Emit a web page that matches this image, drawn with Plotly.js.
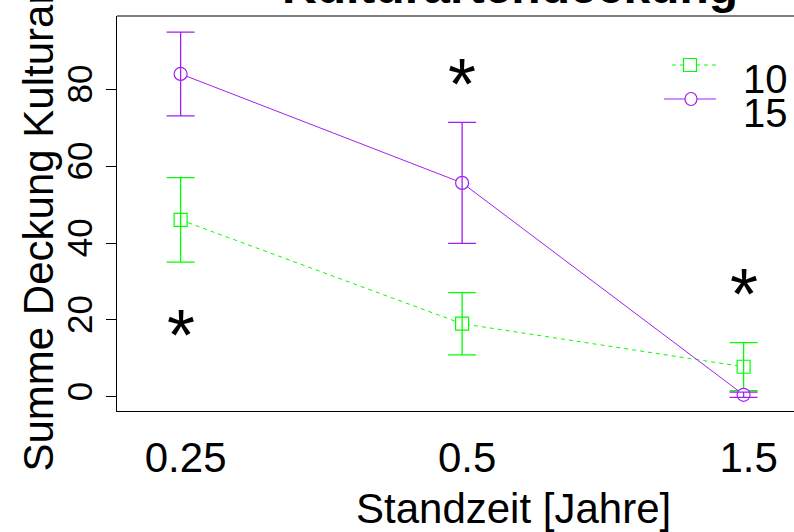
<!DOCTYPE html>
<html>
<head>
<meta charset="utf-8">
<script src="https://cdn.plot.ly/plotly-3.0.1.min.js"></script>
<style>html,body{margin:0;padding:0;background:#fff;}#chart{width:794px;height:532px;}</style>
</head>
<body>
<div id="chart"></div>
<script>
// ---- data ----
const categories = ['0.25', '0.5', '1.5'];      // Standzeit [Jahre]
const groupLabels = ['10', '15'];
const mean10 = [46.0, 19.0, 7.8];
const err10  = [11.0, 8.1, 6.25];
const mean15 = [84.0, 55.65, 0.5];
const err15  = [10.9, 15.75, 0.7];
const starY  = [18.6, 83.85, 29.2];              // significance asterisks
const yTicks = [0, 20, 40, 60, 80];

// ---- style ----
const FONT = 'Liberation Sans, Arial, Helvetica, sans-serif';
const GREEN = '#00FF00';
const PURPLE = '#A020F0';
const W = 794, H = 532;
const M = {l: 117, r: 0, t: 16, b: 121};
const PW = W - M.l - M.r, PH = H - M.t - M.b;
const px2x = p => (p - M.l) / PW;
const py2y = p => (H - M.b - p) / PH;

const xPos = categories.map((c, i) => i + 1);

function group(mean, err, color, dash, symbol) {
  return [
    {x: xPos, y: mean, mode: 'lines', line: {color: color, width: 1, dash: dash}, hoverinfo: 'skip'},
    {x: xPos, y: mean, mode: 'markers',
     marker: {symbol: symbol, size: 13, color: 'white', line: {color: color, width: 1.2}}},
    {x: xPos, y: mean, mode: 'markers', marker: {size: 1, color: 'rgba(0,0,0,0)'},
     error_y: {type: 'data', array: err, visible: true, color: color, thickness: 1.3, width: 14}}
  ];
}

const traces = [].concat(
  group(mean10, err10, GREEN, '4px,4px', 'square'),
  group(mean15, err15, PURPLE, 'solid', 'circle')
);

const STAR = 72;
const annotations = [];
categories.forEach((c, i) => {
  annotations.push({x: xPos[i], y: starY[i], xref: 'x', yref: 'y', text: '*', showarrow: false,
    xanchor: 'center', yanchor: 'middle', yshift: -0.26 * STAR + 9,
    font: {family: FONT, size: STAR, color: 'black'}});
});
// title (cut off at the top in the reference)
annotations.push({x: px2x(510), y: py2y(15), xref: 'paper', yref: 'paper', text: '<b>Kulturartendeckung</b>',
  showarrow: false, xanchor: 'center', yanchor: 'bottom', font: {family: FONT, size: 48, color: 'black'}});
// x axis title
annotations.push({x: px2x(513.5), y: py2y(508), xref: 'paper', yref: 'paper', text: 'Standzeit [Jahre]',
  showarrow: false, xanchor: 'center', yanchor: 'middle', font: {family: FONT, size: 42, color: 'black'}});
// y axis title
annotations.push({x: px2x(38), y: py2y(474), xref: 'paper', yref: 'paper', text: 'Summe Deckung Kulturarten',
  showarrow: false, textangle: -90, xanchor: 'center', yanchor: 'bottom', font: {family: FONT, size: 42, color: 'black'}});
// legend texts
annotations.push({x: px2x(741), y: py2y(79), xref: 'paper', yref: 'paper', text: groupLabels[0],
  showarrow: false, xanchor: 'left', yanchor: 'middle', font: {family: FONT, size: 40, color: 'black'}});
annotations.push({x: px2x(741), y: py2y(113), xref: 'paper', yref: 'paper', text: groupLabels[1],
  showarrow: false, xanchor: 'left', yanchor: 'middle', font: {family: FONT, size: 40, color: 'black'}});

const shapes = [
  // top frame line
  {type: 'line', xref: 'paper', yref: 'paper', x0: 0, x1: 1, y0: 1, y1: 1, line: {color: 'black', width: 1}},
  // legend samples
  {type: 'line', xref: 'paper', yref: 'paper', x0: px2x(672), x1: px2x(716), y0: py2y(65), y1: py2y(65),
   line: {color: GREEN, width: 1, dash: '4px,4px'}},
  {type: 'rect', xref: 'paper', yref: 'paper', x0: px2x(683.5), x1: px2x(696.5), y0: py2y(58.5), y1: py2y(71.5),
   line: {color: GREEN, width: 1.2}, fillcolor: 'white'},
  {type: 'line', xref: 'paper', yref: 'paper', x0: px2x(664), x1: px2x(716), y0: py2y(99), y1: py2y(99),
   line: {color: PURPLE, width: 1}},
  {type: 'circle', xref: 'paper', yref: 'paper', x0: px2x(685), x1: px2x(697), y0: py2y(92.5), y1: py2y(105.5),
   line: {color: PURPLE, width: 1.2}, fillcolor: 'white'}
];

const layout = {
  width: W, height: H,
  margin: {l: M.l, r: M.r, t: M.t, b: M.b, pad: 0},
  paper_bgcolor: 'white', plot_bgcolor: 'white',
  showlegend: false,
  font: {family: FONT, color: 'black'},
  xaxis: {range: [0.774, 3.179], tickvals: xPos, ticktext: categories, ticks: '',
    showline: true, linecolor: 'black', linewidth: 1, showgrid: false, zeroline: false,
    tickfont: {family: FONT, size: 42, color: 'black'}, ticklabelshift: 5, ticklabelstandoff: 10},
  yaxis: {range: [-3.72, 99.08], tickvals: yTicks, ticks: 'outside', ticklen: 10, tickwidth: 1,
    tickcolor: 'black', showline: true, linecolor: 'black', linewidth: 1, showgrid: false, zeroline: false,
    tickangle: -90, tickfont: {family: FONT, size: 35, color: 'black'}},
  annotations: annotations,
  shapes: shapes
};

Plotly.newPlot('chart', traces, layout, {displayModeBar: false, staticPlot: true});
</script>
</body>
</html>
